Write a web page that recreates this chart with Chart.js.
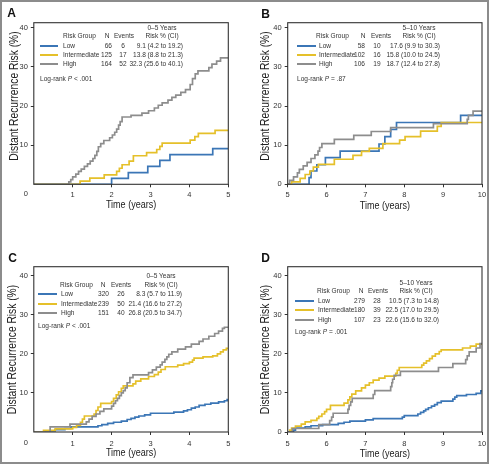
<!DOCTYPE html>
<html><head><meta charset="utf-8">
<script src="https://cdn.jsdelivr.net/npm/chart.js@4.4.0/dist/chart.umd.min.js"></script>
<style>
html,body{margin:0;padding:0;background:#fff;}
#fig{position:relative;width:493px;height:466px;overflow:hidden;font-family:"Liberation Sans",Arial,sans-serif;color:#333;}
#frame{position:absolute;left:0;top:0;width:489px;height:464px;border:2px solid #8c8c8c;box-sizing:border-box;pointer-events:none;}
.panel{position:absolute;width:246px;height:233px;}
.panel canvas{position:absolute;left:0;top:0;}
.t{position:absolute;font-size:8px;line-height:10px;height:10px;white-space:nowrap;}
.letter{position:absolute;width:20px;text-align:center;font:bold 12px "Liberation Sans",Arial,sans-serif;line-height:14px;color:#111;}
.sw{position:absolute;height:2px;}
</style></head><body>
<div id="fig">
 <div class="panel" id="pA"><canvas width="246" height="233"></canvas></div>
 <div class="panel" id="pB"><canvas width="246" height="233"></canvas></div>
 <div class="panel" id="pC"><canvas width="246" height="233"></canvas></div>
 <div class="panel" id="pD"><canvas width="246" height="233"></canvas></div>
 <div id="frame"></div>
</div>
<script>
// ---------------- DATA ----------------
const riskGroups = ['Low', 'Intermediate', 'High'];
const yTickValues = [0, 10, 20, 30, 40];
const xTicksEarly = [0, 1, 2, 3, 4, 5];
const xTicksLate = [5, 6, 7, 8, 9, 10];
const xAxisTitle = 'Time (years)';
const yAxisTitle = 'Distant Recurrence Risk (%)';
const tableHeaders = ['Risk Group', 'N', 'Events', 'Risk % (CI)'];

// Panel A: 0–5 years
const aLowT  = [0, 2.0, 2.43, 2.93, 3.24, 3.5, 4.6, 5];
const aLowR  = [0, 1.5, 3.0, 4.6, 6.1, 7.6, 9.1, 9.1];
const aIntT  = [0, 1.19, 1.44, 1.81, 2.13, 2.2, 2.27, 2.45, 2.56, 2.9, 3.16, 3.24, 3.3, 4.02, 4.14, 4.23, 4.66, 5];
const aIntR  = [0, 0.8, 1.6, 2.4, 3.3, 4.1, 5.0, 5.9, 7.3, 8.1, 8.9, 9.7, 10.5, 11.3, 12.2, 13.0, 13.8, 13.8];
const aHighT = [0, 0.9, 0.95, 1.0, 1.08, 1.15, 1.22, 1.3, 1.38, 1.45, 1.52, 1.57, 1.62, 1.66, 1.72, 1.8, 1.95, 2.02, 2.08, 2.13, 2.18, 2.22, 2.27, 2.5, 2.78, 2.95, 3.1, 3.2, 3.3, 3.45, 3.55, 3.65, 3.78, 3.9, 4.02, 4.08, 4.15, 4.22, 4.5, 4.58, 4.7, 4.8, 5];
const aHighR = [0, 0.6, 1.2, 1.9, 2.6, 3.3, 3.9, 4.6, 5.2, 5.9, 6.6, 7.4, 8.4, 9.6, 10.4, 11.2, 11.9, 12.6, 13.3, 14.1, 15.1, 16.0, 17.2, 17.6, 18.2, 18.8, 19.5, 20.2, 20.8, 21.5, 22.2, 22.8, 23.5, 24.2, 25.5, 27.0, 28.2, 29.0, 29.8, 30.7, 31.5, 32.3, 32.3];
const aN = [66, 125, 164];
const aEvents = [6, 17, 52];
const aRisk = ['9.1 (4.2 to 19.2)', '13.8 (8.8 to 21.3)', '32.3 (25.6 to 40.1)'];
const aPeriod = '0–5 Years';
const aLogRank = '< .001';

// Panel B: 5–10 years
const bLowT  = [5, 5.55, 5.6, 5.75, 5.97, 6.35, 7.35, 7.5, 7.65, 7.8, 9.45, 10];
const bLowR  = [0, 1.7, 3.4, 5.0, 6.8, 8.5, 10.3, 12.2, 14.0, 15.8, 17.6, 17.6];
const bIntT  = [5, 5.1, 5.32, 5.45, 5.57, 5.66, 5.79, 6.2, 6.68, 6.9, 7.1, 7.45, 7.88, 8.02, 8.42, 8.85, 8.95, 10];
const bIntR  = [0, 0.6, 1.5, 2.5, 3.4, 4.4, 5.1, 6.4, 7.4, 8.4, 9.2, 10.4, 11.3, 12.2, 13.6, 14.8, 15.8, 15.8];
const bHighT = [5, 5.05, 5.15, 5.25, 5.3, 5.4, 5.5, 5.6, 5.7, 5.78, 5.82, 5.88, 6.2, 6.7, 7.15, 7.65, 8.75, 9.62, 9.65, 9.77, 10];
const bHighR = [0, 1.0, 1.9, 2.9, 3.8, 4.7, 5.6, 6.6, 7.5, 8.5, 9.4, 10.4, 11.5, 12.5, 13.5, 14.5, 15.5, 16.6, 17.6, 18.7, 18.7];
const bN = [58, 102, 106];
const bEvents = [10, 16, 19];
const bRisk = ['17.6 (9.9 to 30.3)', '15.8 (10.0 to 24.5)', '18.7 (12.4 to 27.8)'];
const bPeriod = '5–10 Years';
const bLogRank = '= .87';

// Panel C: 0–5 years
const cLowT  = [0, 0.3, 0.55, 0.8, 0.95, 1.65, 1.75, 1.9, 2.05, 2.25, 2.4, 2.5, 2.6, 2.7, 2.85, 3.0, 3.6, 3.85, 3.95, 4.05, 4.15, 4.25, 4.4, 4.55, 4.75, 4.9, 4.97, 5];
const cLowR  = [0, 0.3, 0.6, 0.9, 1.3, 1.6, 1.9, 2.2, 2.5, 2.8, 3.2, 3.5, 3.8, 4.1, 4.4, 4.8, 5.1, 5.4, 5.7, 6.1, 6.4, 6.8, 7.1, 7.4, 7.7, 8.0, 8.3, 8.3];
const cIntT  = [0, 0.25, 0.55, 1.0, 1.1, 1.2, 1.25, 1.3, 1.55, 1.6, 1.65, 1.72, 2.0, 2.05, 2.12, 2.18, 2.25, 2.3, 2.55, 2.62, 2.75, 2.95, 3.1, 3.2, 3.27, 3.38, 3.7, 3.85, 4.0, 4.08, 4.12, 4.35, 4.6, 4.72, 4.8, 4.87, 4.95, 5];
const cIntR  = [0, 0.4, 0.8, 1.2, 1.7, 2.5, 3.3, 4.1, 4.6, 5.5, 6.4, 7.3, 7.8, 8.6, 9.5, 10.3, 11.2, 11.8, 12.3, 13.0, 13.6, 14.2, 14.7, 15.3, 16.0, 16.7, 17.1, 17.5, 17.9, 18.4, 18.9, 19.2, 19.5, 20.0, 20.5, 21.0, 21.4, 21.4];
const cHighT = [0, 0.42, 0.93, 1.35, 1.42, 1.5, 1.6, 1.7, 1.8, 2.0, 2.05, 2.1, 2.15, 2.2, 2.25, 2.3, 2.35, 2.4, 2.47, 2.55, 2.95, 3.05, 3.15, 3.25, 3.3, 3.37, 3.42, 3.47, 3.55, 3.7, 3.9, 4.05, 4.25, 4.35, 4.5, 4.65, 4.75, 4.85, 4.9, 5];
const cHighR = [0, 1.3, 2.0, 2.6, 3.3, 4.0, 4.6, 5.3, 5.9, 6.6, 7.3, 8.0, 8.6, 9.3, 10.0, 10.6, 11.3, 12.6, 13.9, 14.6, 15.2, 15.9, 16.6, 17.2, 17.9, 18.6, 19.2, 19.9, 20.5, 21.2, 21.8, 22.5, 23.2, 23.8, 24.5, 25.2, 25.8, 26.5, 26.8, 26.8];
const cN = [320, 239, 151];
const cEvents = [26, 50, 40];
const cRisk = ['8.3 (5.7 to 11.9)', '21.4 (16.6 to 27.2)', '26.8 (20.5 to 34.7)'];
const cPeriod = '0–5 Years';
const cLogRank = '< .001';

// Panel D: 5–10 years
const dLowT  = [5, 5.15, 5.2, 5.45, 5.6, 5.9, 6.3, 6.45, 6.6, 7.0, 7.2, 7.95, 8.0, 8.35, 8.42, 8.5, 8.55, 8.62, 8.7, 8.78, 8.85, 8.95, 9.25, 9.3, 9.35, 9.6, 9.85, 9.97, 10];
const dLowR  = [0, 0.5, 1.0, 1.3, 1.6, 1.9, 2.2, 2.5, 2.8, 3.1, 3.4, 3.8, 4.2, 4.6, 5.0, 5.4, 5.8, 6.2, 6.6, 7.0, 7.5, 7.9, 8.4, 8.9, 9.3, 9.6, 9.9, 10.5, 10.5];
const dIntT  = [5, 5.05, 5.1, 5.2, 5.35, 5.45, 5.6, 5.75, 5.8, 5.88, 5.95, 6.0, 6.1, 6.45, 6.55, 6.6, 6.65, 6.75, 6.9, 7.0, 7.1, 7.2, 7.35, 7.5, 7.78, 7.82, 7.87, 8.45, 8.5, 8.57, 8.65, 8.72, 8.8, 8.9, 8.95, 9.5, 9.7, 9.85, 10];
const dIntR  = [0, 0.5, 1.0, 1.5, 2.0, 2.6, 3.0, 3.5, 4.0, 4.6, 5.2, 5.8, 6.8, 7.4, 8.2, 9.0, 9.7, 10.5, 11.3, 12.0, 12.6, 13.3, 13.8, 14.3, 15.0, 15.8, 16.5, 17.1, 17.6, 18.2, 18.8, 19.4, 20.0, 20.6, 21.0, 21.5, 22.0, 22.5, 22.5];
const dHighT = [5, 5.12, 5.8, 6.08, 6.13, 6.17, 6.55, 6.58, 6.62, 6.66, 7.2, 7.24, 7.65, 7.68, 7.7, 7.74, 7.9, 8.88, 9.25, 9.58, 9.62, 9.67, 9.85, 9.95, 10];
const dHighR = [0, 0.9, 1.9, 2.9, 3.8, 4.8, 5.8, 6.8, 7.7, 8.6, 9.6, 10.6, 11.6, 12.6, 13.5, 14.5, 15.5, 16.5, 17.5, 18.5, 19.5, 20.5, 21.5, 22.6, 22.6];
const dN = [279, 180, 107];
const dEvents = [28, 39, 23];
const dRisk = ['10.5 (7.3 to 14.8)', '22.5 (17.0 to 29.5)', '22.6 (15.6 to 32.0)'];
const dPeriod = '5–10 Years';
const dLogRank = '= .001';

// ---------------- STYLE / LAYOUT ----------------
const FONT = '"Liberation Sans", Arial, sans-serif';
const NARROW = 0.82;
const colors = ['#3b76b6', '#e5c02a', '#8d8d8d'];
const INK = '#333';
const PW = 246, PH = 233;

const panels = [
  { id:'A', left:0, top:0, series:[[aLowT,aLowR],[aIntT,aIntR],[aHighT,aHighR]], xTicks:xTicksEarly, yMax:41.3, cornerZero:true,
    area:{left:33.8, right:228.3, top:22.7, bottom:184.3}, yTitleX:15, yTitleY:96, xTitleY:205, tickPad:3,
    letter:{x:11.7, y:12.8},
    table:{n:aN, ev:aEvents, risk:aRisk, period:aPeriod, p:aLogRank,
      hdr1Y:28, hdr2Y:36, rowsY:[46,55,64], sw:[40,58], rgX:63, nHdr:106.5, evHdr:124, riskHdr:161.5,
      nameX:63, nRight:112, evC:123, riskRight:183, lrX:40, lrY:79} },
  { id:'B', left:246, top:0, series:[[bLowT,bLowR],[bIntT,bIntR],[bHighT,bHighR]], xTicks:xTicksLate, yMax:41.3, cornerZero:false,
    area:{left:41.7, right:236, top:22.7, bottom:184.3}, yTitleX:20, yTitleY:96, xTitleY:206, tickPad:3,
    letter:{x:19.7, y:13.7},
    table:{n:bN, ev:bEvents, risk:bRisk, period:bPeriod, p:bLogRank,
      hdr1Y:28, hdr2Y:36, rowsY:[45.5,54.5,63.5], sw:[50.7,70], rgX:70, nHdr:116.8, evHdr:134.5, riskHdr:172.5,
      nameX:73, nRight:119, evC:130.5, riskRight:194.3, lrX:50.7, lrY:79} },
  { id:'C', left:0, top:233, series:[[cLowT,cLowR],[cIntT,cIntR],[cHighT,cHighR]], xTicks:xTicksEarly, yMax:42.3, cornerZero:true,
    area:{left:33.8, right:228.3, top:33.7, bottom:199}, yTitleX:12.2, yTitleY:116.5, xTitleY:220.3, tickPad:4,
    letter:{x:12.5, y:25},
    table:{n:cN, ev:cEvents, risk:cRisk, period:cPeriod, p:cLogRank,
      hdr1Y:42.7, hdr2Y:51.7, rowsY:[61,70.7,80], sw:[37.7,56.7], rgX:60, nHdr:103.3, evHdr:121.3, riskHdr:161,
      nameX:60.7, nRight:109.3, evC:121, riskRight:181.7, lrX:37.7, lrY:93.3} },
  { id:'D', left:246, top:233, series:[[dLowT,dLowR],[dIntT,dIntR],[dHighT,dHighR]], xTicks:xTicksLate, yMax:42.3, cornerZero:false,
    area:{left:41.7, right:236, top:33.7, bottom:199}, yTitleX:20, yTitleY:116.5, xTitleY:220.8, tickPad:4,
    letter:{x:19.7, y:25},
    table:{n:dN, ev:dEvents, risk:dRisk, period:dPeriod, p:dLogRank,
      hdr1Y:50, hdr2Y:58.3, rowsY:[67.7,77.3,86.7], sw:[49.3,68.3], rgX:70.7, nHdr:115, evHdr:132.2, riskHdr:170,
      nameX:71.7, nRight:119.3, evC:131.2, riskRight:193.3, lrX:49.3, lrY:99.3} }
];

function addText(host, html, x, y, align){
  const d = document.createElement('div');
  d.className = 't';
  d.innerHTML = html;
  d.style.top = (y - 5) + 'px';
  let origin = 'left center';
  if (align === 'right'){ d.style.left = (x - 150) + 'px'; d.style.width = '150px'; d.style.textAlign = 'right'; origin = 'right center'; }
  else if (align === 'center'){ d.style.left = (x - 75) + 'px'; d.style.width = '150px'; d.style.textAlign = 'center'; origin = 'center center'; }
  else { d.style.left = x + 'px'; }
  d.style.transform = 'scaleX(' + NARROW + ')';
  d.style.transformOrigin = origin;
  host.appendChild(d);
}

function buildTable(host, tb){
  addText(host, tb.period, tb.riskHdr, tb.hdr1Y, 'center');
  addText(host, tableHeaders[0], tb.rgX, tb.hdr2Y, 'left');
  addText(host, tableHeaders[1], tb.nHdr, tb.hdr2Y, 'center');
  addText(host, tableHeaders[2], tb.evHdr, tb.hdr2Y, 'center');
  addText(host, tableHeaders[3], tb.riskHdr, tb.hdr2Y, 'center');
  riskGroups.forEach((g, i) => {
    const y = tb.rowsY[i];
    const sw = document.createElement('div');
    sw.className = 'sw';
    sw.style.left = tb.sw[0] + 'px';
    sw.style.width = (tb.sw[1] - tb.sw[0]) + 'px';
    sw.style.top = (y - 1) + 'px';
    sw.style.background = colors[i];
    host.appendChild(sw);
    addText(host, g, tb.nameX, y, 'left');
    addText(host, String(tb.n[i]), tb.nRight, y, 'right');
    addText(host, String(tb.ev[i]), tb.evC, y, 'center');
    addText(host, tb.risk[i], tb.riskRight, y, 'right');
  });
  addText(host, 'Log-rank <i>P</i> ' + tb.p, tb.lrX, tb.lrY, 'left');
}

function buildPanel(p){
  const host = document.getElementById('p' + p.id);
  host.style.left = p.left + 'px';
  host.style.top = p.top + 'px';
  const canvas = host.querySelector('canvas');
  const x0 = p.xTicks[0], x1 = p.xTicks[p.xTicks.length - 1];
  const datasets = p.series.map((s, i) => ({
    label: riskGroups[i],
    data: s[0].map((t, k) => ({x: t, y: s[1][k]})),
    borderColor: colors[i], borderWidth: 1.7, stepped: 'before',
    pointRadius: 0, fill: false, tension: 0
  })).reverse();
  const tickColor = (hideVal) => (ctx) => (p.cornerZero && ctx.tick && ctx.tick.value === hideVal) ? 'rgba(0,0,0,0)' : INK;
  const framePlugin = {
    id: 'frame' + p.id,
    afterDatasetsDraw(chart){
      const {ctx, chartArea: a} = chart;
      ctx.save();
      ctx.strokeStyle = INK; ctx.lineWidth = 1.1;
      ctx.strokeRect(a.left, a.top, a.right - a.left, a.bottom - a.top);
      ctx.fillStyle = INK;
      if (p.cornerZero){
        ctx.font = '7.5px ' + FONT;
        ctx.textAlign = 'center'; ctx.textBaseline = 'top';
        ctx.fillText(String(x0), a.left - 8, chart.scales.x.top + 3 + p.tickPad);
      }
      // axis titles (condensed lettering)
      ctx.fillStyle = '#222';
      ctx.textAlign = 'center'; ctx.textBaseline = 'middle';
      ctx.font = '11px ' + FONT;
      ctx.save();
      ctx.translate((a.left + a.right) / 2, p.xTitleY);
      ctx.scale(NARROW, 1);
      ctx.fillText(xAxisTitle, 0, 0);
      ctx.restore();
      ctx.font = '12.5px ' + FONT;
      ctx.save();
      ctx.translate(p.yTitleX, p.yTitleY);
      ctx.rotate(-Math.PI / 2);
      ctx.scale(NARROW, 1);
      ctx.fillText(yAxisTitle, 0, 0);
      ctx.restore();
      ctx.restore();
    }
  };
  new Chart(canvas, {
    type: 'line',
    data: {datasets},
    options: {
      responsive: false, animation: false, events: [],
      layout: {padding: {left: 0, top: p.area.top, right: PW - p.area.right, bottom: 0}},
      plugins: {legend: {display: false}, tooltip: {enabled: false}, title: {display: false}},
      scales: {
        x: {
          type: 'linear', min: x0, max: x1,
          afterBuildTicks: s => { s.ticks = p.xTicks.map(v => ({value: v})); },
          afterFit: s => { s.height = PH - p.area.bottom; },
          grid: {display: true, drawOnChartArea: false, drawTicks: true, tickLength: 3, lineWidth: 1, color: tickColor(x0)},
          border: {display: false},
          ticks: {font: {family: FONT, size: 7.5}, color: INK, padding: p.tickPad, maxRotation: 0, autoSkip: false,
                  callback: v => (p.cornerZero && v === x0) ? '' : String(v)},
          title: {display: false}
        },
        y: {
          type: 'linear', min: 0, max: p.yMax,
          afterBuildTicks: s => { s.ticks = yTickValues.map(v => ({value: v})); },
          afterFit: s => { s.width = p.area.left; },
          grid: {display: true, drawOnChartArea: false, drawTicks: true, tickLength: 3, lineWidth: 1, color: tickColor(0)},
          border: {display: false},
          ticks: {font: {family: FONT, size: 7.5}, color: INK, padding: 3,
                  callback: v => (p.cornerZero && v === 0) ? '' : String(v)},
          title: {display: false}
        }
      }
    },
    plugins: [framePlugin]
  });
  const L = document.createElement('div');
  L.className = 'letter';
  L.textContent = p.id;
  L.style.left = (p.letter.x - 10) + 'px';
  L.style.top = (p.letter.y - 7) + 'px';
  host.appendChild(L);
  buildTable(host, p.table);
}

panels.forEach(buildPanel);
</script>
</body></html>
